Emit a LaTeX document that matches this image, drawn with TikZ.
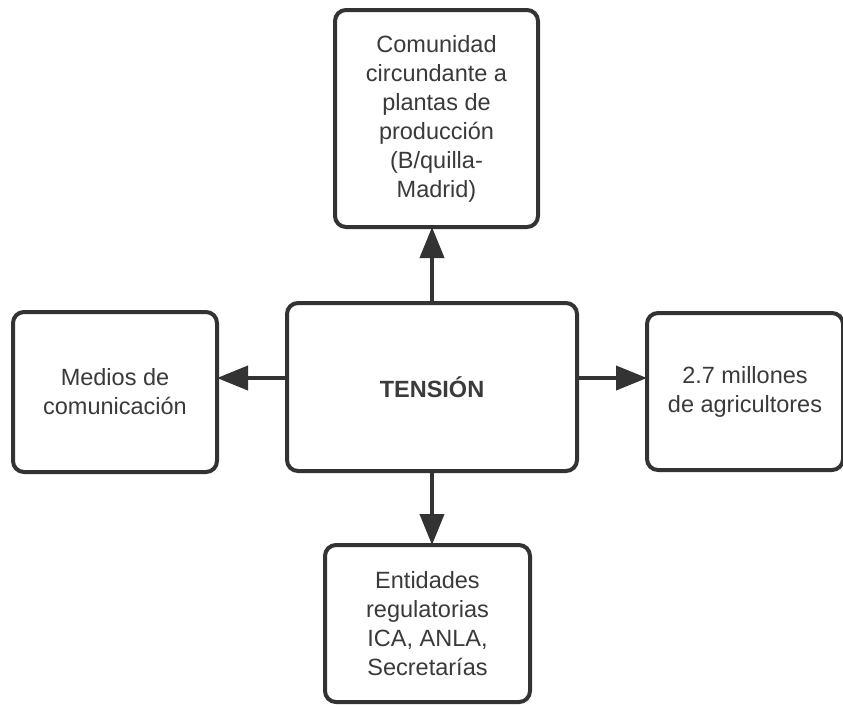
\documentclass[tikz,border=0pt]{standalone}
\usepackage{fontspec}
\setmainfont{Liberation Sans}
\usetikzlibrary{arrows.meta}
\definecolor{ink}{HTML}{333333}
\definecolor{txt}{HTML}{3A3A3A}
\begin{document}
\begin{tikzpicture}[x=1pt,y=-1pt,
  box/.style={draw=ink, line width=4pt, rounded corners=11pt, fill=white,
    inner sep=0pt, outer sep=0pt, align=center, text=txt,
    font=\fontsize{23.5}{29}\selectfont},
  arr/.style={draw=ink, line width=4pt, -{Triangle[length=31pt,width=24pt]}}]
\useasboundingbox (0,0) rectangle (843,705);
\fill[white] (0,0) rectangle (843,705);

% central box and the four surrounding boxes
\node[box, minimum width=290pt, minimum height=168pt] (c) at (432,387)
  {\bfseries TENSIÓN};
\node[box, minimum width=203pt, minimum height=217pt] (t) at (436.5,118.5)
  {Comunidad\\circundante a\\plantas de\\producción\\(B/quilla-\\Madrid)};
\node[box, minimum width=204pt, minimum height=160pt] (l) at (115,392)
  {Medios de\\comunicación};
\node[box, minimum width=196pt, minimum height=157pt] (r) at (745,391.5)
  {2.7 millones\\de agricultores};
\node[box, minimum width=205pt, minimum height=157pt] (b) at (427.5,623.5)
  {Entidades\\regulatorias\\ICA, ANLA,\\Secretarías};

% connectors
\coordinate (hy) at (0,378);
\draw[arr] (c.north) -- (c.north |- t.south);
\draw[arr] (c.south) -- (c.south |- b.north);
\draw[arr] (c.west |- hy) -- (l.east |- hy);
\draw[arr] (c.east |- hy) -- (r.west |- hy);
\end{tikzpicture}
\end{document}
